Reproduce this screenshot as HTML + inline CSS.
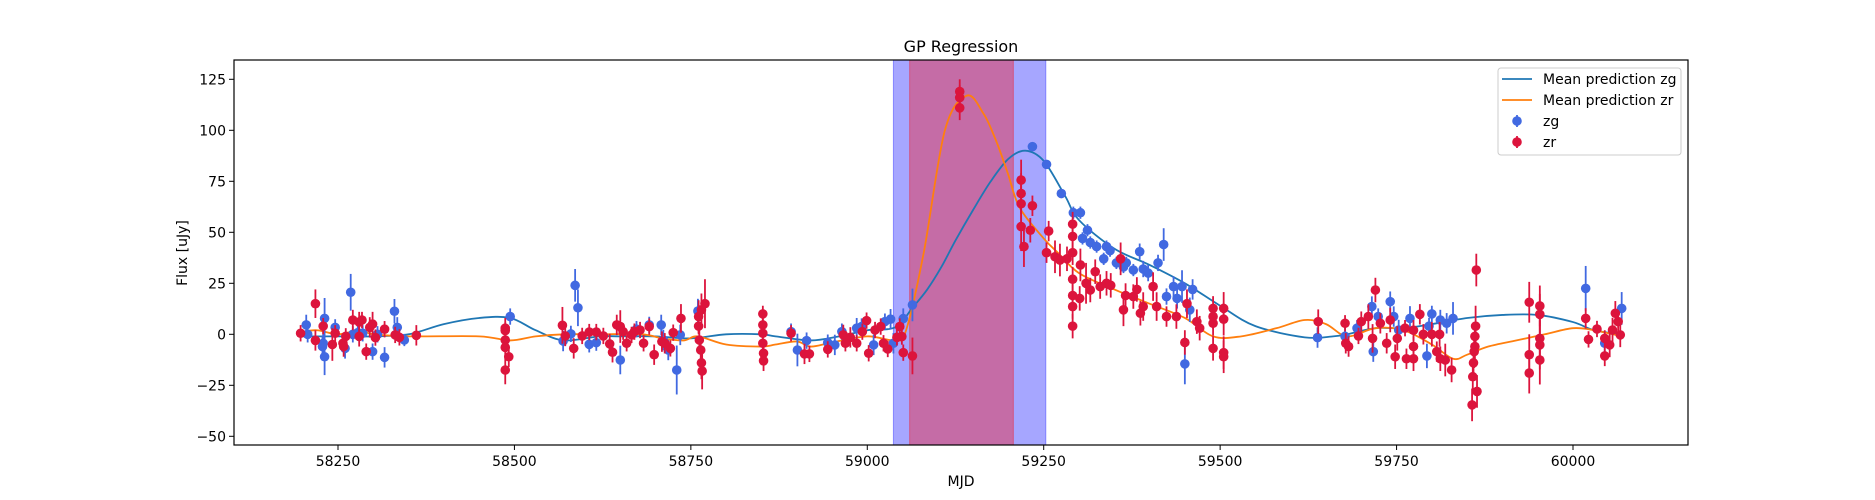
<!DOCTYPE html>
<html><head><meta charset="utf-8"><style>
body{margin:0;background:#fff;}
svg{display:block;font-family:"DejaVu Sans","Liberation Sans",sans-serif;}
</style></head><body>
<svg id="chart" width="1875" height="500" viewBox="0 0 1875 500" xmlns="http://www.w3.org/2000/svg">
<rect width="1875" height="500" fill="#fff"/>
<text x="961" y="52" font-size="16" text-anchor="middle">GP Regression</text>
<g id="shades"></g>
<g id="lines"></g>
<g id="points"></g>
<rect x="234" y="60" width="1454" height="385" fill="none" stroke="#000" stroke-width="1.2"/>
<g id="axes"></g>
<text x="961" y="486" font-size="14" text-anchor="middle">MJD</text>
<text x="187" y="253" font-size="14" text-anchor="middle" transform="rotate(-90 187 253)">Flux [uJy]</text>
<g id="legend">
<rect x="1498" y="68" width="183" height="87" rx="3" fill="#fff" fill-opacity="0.85" stroke="#ccc"/>
<line x1="1502" y1="79" x2="1532" y2="79" stroke="#1f77b4" stroke-width="1.8"/>
<text x="1543" y="84" font-size="14">Mean prediction zg</text>
<line x1="1502" y1="100" x2="1532" y2="100" stroke="#ff7f0e" stroke-width="1.8"/>
<text x="1543" y="105" font-size="14">Mean prediction zr</text>
<line x1="1517" y1="115" x2="1517" y2="127" stroke="#4169e1" stroke-width="1.8"/>
<circle cx="1517" cy="121" r="4.8" fill="#4169e1"/>
<text x="1543" y="126" font-size="14">zg</text>
<line x1="1517" y1="136" x2="1517" y2="148" stroke="#dc143c" stroke-width="1.8"/>
<circle cx="1517" cy="142" r="4.8" fill="#dc143c"/>
<text x="1543" y="147" font-size="14">zr</text>
</g>
</svg>
<script>
const xTicks=[58250,58500,58750,59000,59250,59500,59750,60000];
const yTicks=[-50,-25,0,25,50,75,100,125];
const shadeZg=[59037,59253];
const shadeZr=[59060,59207];
const zgMJD=[58205,58207,58228,58229,58231,58231,58246,58260,58268,58271,58278,58285,58299,58306,58316,58330,58334,58344,58494,58569,58580,58586,58590,58606,58616,58650,58673,58691,58708,58711,58718,58730,58735,58760,58892,58901,58914,58944,58954,58964,58985,58992,59009,59025,59033,59037,59051,59064,59234,59254,59275,59292,59302,59305,59312,59316,59325,59335,59339,59344,59353,59363,59367,59377,59386,59391,59398,59412,59420,59424,59434,59439,59446,59450,59457,59461,59638,59677,59694,59715,59717,59724,59741,59746,59753,59769,59793,59796,59800,59812,59821,59830,60018,60045,60069];
const zgFlux=[4.6,0,-6,-4.4,7.8,-11,3.4,-6.9,20.6,0,0.8,0.5,-8.5,0,-11.3,11.3,3.4,-2.8,8.7,-3.3,0.2,24,13,-4.9,-4.1,-12.6,2.5,4.6,4.6,-2.8,-7.7,-17.5,-0.3,11.4,1.3,-7.7,-3.1,-4.1,-5.2,1.3,3,3.8,-5.2,6.2,7.4,-4.4,7.7,14.4,92,83.3,69,59.6,59.6,47,51,45,43,37,43,41,35,33,35,31.5,40.5,32,30,35,44,18.5,23.4,17.6,23.4,-14.5,12,22,-1.6,-1,3,13.6,-8.5,8.7,16,8.7,2.1,7.8,-10.6,4,10,7,5.4,7.8,22.5,-4.4,12.7];
const zgErr=[5,4,5,6,10,9,4,5,9,4,4,4,4,4,5,6,5,3,4,5,4,8,9,4,4,7,4,4,5,5,5,12,5,6,4,8,4,4,5,4,5,4,5,4,5,5,5,8,2,2,2,3,3,3,3,3,3,3,3,3,3,3,3,3,4,4,4,4,8,4,5,5,8,10,6,5,5,5,4,5,5,4,5,5,5,6,6,4,4,5,5,8,11,5,8];
const zrMJD=[58197,58218,58218,58229,58242,58246,58257,58258,58261,58271,58280,58284,58280,58290,58295,58299,58303,58316,58331,58337,58361,58487,58487,58487,58487,58492,58487,58568,58572,58584,58596,58606,58616,58626,58635,58639,58645,58650,58654,58659,58666,58670,58678,58683,58691,58698,58709,58713,58721,58725,58736,58761,58761,58765,58770,58762,58764,58765,58766,58852,58852,58852,58852,58853,58853,58892,58911,58918,58944,58966,58969,58976,58985,58993,58999,59002,59011,59019,59023,59029,59042,59046,59049,59051,59064,59131,59131,59131,59218,59218,59218,59234,59218,59231,59222,59257,59254,59266,59273,59283,59291,59291,59291,59291,59291,59291,59291,59301,59302,59310,59316,59323,59330,59339,59345,59359,59363,59366,59377,59382,59387,59391,59405,59410,59424,59438,59450,59453,59467,59471,59490,59490,59490,59490,59505,59505,59505,59505,59639,59677,59678,59682,59696,59700,59710,59720,59716,59727,59736,59741,59748,59751,59762,59764,59774,59774,59774,59783,59788,59800,59807,59811,59812,59819,59828,59857,59858,59859,59860,59861,59861,59862,59864,59863,59938,59938,59938,59953,59953,59953,59953,59953,60018,60022,60034,60045,60045,60052,60056,60060,60064,60067];
const zrFlux=[0.5,15,-3,4,-5,0.5,-4.4,-6,-1,7,6,7,-1,-8.5,3.4,5,-1.6,2.5,-0.3,-1.5,-0.5,3,1.8,-2.8,-6.4,-11,-17.5,4.4,-0.8,-6.9,-0.8,1.1,1.1,-0.8,-4.7,-8.8,4.6,3.8,1.3,-4.4,-0.3,1.3,2.1,-4.4,3.8,-10,-3.6,-4.4,-6.9,0.8,7.8,4,8.7,12,15,-2.8,-7.7,-14,-18,10,4.6,0.5,-4.4,-9.3,-13,0.5,-9.6,-9.6,-7.4,-0.3,-4.4,-1.5,-4.4,1.3,6.7,-9.3,2.1,3.8,-4.4,-7.2,-1.5,3.8,-1.1,-9,-10.6,119,116,111,75.6,69,64,63,52.8,51,43,50.6,40,38,36.4,37,54,48,40,27,19,13.6,4,17.6,34,25,21.7,30.7,23.4,25,24,37,12,19,18.5,22,10.3,13.6,23.4,13.6,8.7,8.7,-4,15,6.2,3,12.7,8.7,5.4,-6.9,12.7,7.4,-9,-11,6.2,5.4,-4.4,-6,-0.8,6.2,8.7,21.7,-2,5.4,-4.4,7,-11,-2,3,-12,2,-6,-12,9.8,0,0,-8.5,0,-12,-12.6,-17.5,-34.6,-20.8,-14,-8.5,-6,-1,4,-28,31.5,15.7,-10,-19,13.9,9.8,-2,-5.2,-12.6,7.8,-2.5,2.6,-2,-10.6,-5.2,2.1,10.3,6.2,-0.3];
const zrErr=[4,7,5,4,8,4,4,5,4,5,5,4,5,4,5,6,4,4,4,4,5,5,4,4,5,5,7,9,5,5,4,4,4,4,5,5,5,8,4,4,4,4,4,4,4,5,5,5,4,4,7,4,8,8,12,5,7,8,9,4,4,4,4,5,5,4,5,4,4,5,4,5,4,4,4,4,4,4,4,4,4,4,4,4,9,6,6,6,10,10,12,5,12,6,10,5,5,8,8,6,6,6,6,6,6,6,6,6,8,10,6,6,6,6,6,8,8,6,6,6,6,7,7,7,5,6,6,7,6,6,6,6,6,6,8,8,8,8,6,4,5,5,4,5,6,6,7,5,5,6,6,6,4,5,5,5,6,5,5,6,5,6,6,8,6,8,8,8,8,8,7,10,8,8,10,10,10,10,10,10,12,12,5,4,4,4,5,6,6,6,5,6];
const zgCurveMJD=[58197,58250,58300,58350,58400,58450,58494,58530,58570,58620,58650,58700,58750,58800,58850,58870,58920,58960,59000,59040,59064,59085,59105,59125,59150,59175,59200,59224,59250,59280,59300,59350,59400,59450,59500,59550,59620,59660,59680,59720,59760,59800,59850,59900,59950,60000,60030,60069];
const zgCurveFlux=[-1,-1,-1,0,5,8,8,2,-3,-1,-1,-1,-2,0,0,-1,-3,-1,2,3.5,13,22,33,46,61,75,86,90,85,68,56,42,34,25,14,4,-1.5,-1,0,3,3,5,8,9.5,9.5,6,2,0];
const zrCurveMJD=[58197,58220,58250,58280,58300,58350,58450,58494,58530,58570,58620,58680,58710,58740,58760,58800,58850,58870,58900,58920,58950,59000,59040,59055,59080,59110,59141,59165,59180,59190,59200,59216,59250,59270,59300,59350,59400,59450,59490,59530,59580,59620,59650,59680,59720,59760,59800,59830,59850,59880,59920,59960,60000,60030,60069];
const zrCurveFlux=[1,2,0,2,0,-1,-1,-3,-1,0,0,0,-2,-3,-1,-5,-6,-5,-3.5,-6,-4,-1,-3,2,40,100,117,108,97,88,78,62,47,40,30,22,15,8,-1,-1,3,7,5,-1,3,2,-5,-12,-10,-6,-3,0,3,2,-1];

const NS='http://www.w3.org/2000/svg';
const X=v=>338+(v-58250)*0.70571;
const Y=f=>334.3-f*2.04;
function mk(tag,attrs,parent){const e=document.createElementNS(NS,tag);for(const k in attrs)e.setAttribute(k,attrs[k]);parent.appendChild(e);return e;}
const axes=document.getElementById('axes');
xTicks.forEach(t=>{
  const g=mk('g',{},axes);
  
  
  mk('line',{x1:X(t),x2:X(t),y1:445,y2:450,stroke:'#000','stroke-width':1},g);
  const tx=mk('text',{x:X(t),y:466,'font-size':14,'text-anchor':'middle'},g);tx.textContent=t;
});
yTicks.forEach(t=>{
  const g=mk('g',{},axes);
  
  
  mk('line',{x1:229,x2:234,y1:Y(t),y2:Y(t),stroke:'#000','stroke-width':1},g);
  const tx=mk('text',{x:226,y:Y(t)+5,'font-size':14,'text-anchor':'end'},g);tx.textContent=(t<0?'\u2212'+(-t):t);
});
const sh=document.getElementById('shades');
const s1=mk('rect',{x:X(shadeZg[0]),y:60,width:X(shadeZg[1])-X(shadeZg[0]),height:385,fill:'#0000ff','fill-opacity':0.35,stroke:'#0000ff','stroke-opacity':0.35},sh);


const s2=mk('rect',{x:X(shadeZr[0]),y:60,width:X(shadeZr[1])-X(shadeZr[0]),height:385,fill:'#ff0000','fill-opacity':0.35,stroke:'#ff0000','stroke-opacity':0.35},sh);


function curve(xs,ys){
  const p=xs.map((x,i)=>[X(x),Y(ys[i])]);
  let d='M'+p[0][0]+','+p[0][1];
  for(let i=0;i<p.length-1;i++){
    const p0=p[Math.max(0,i-1)],p1=p[i],p2=p[i+1],p3=p[Math.min(p.length-1,i+2)];
    const c1=[p1[0]+(p2[0]-p0[0])/6,p1[1]+(p2[1]-p0[1])/6];
    const c2=[p2[0]-(p3[0]-p1[0])/6,p2[1]-(p3[1]-p1[1])/6];
    d+=' C'+c1+' '+c2+' '+p2;
  }
  return d;
}
const lines=document.getElementById('lines');
const pts=document.getElementById('points');
function drawPts(ms,fs,es,col,name){
  ms.forEach((m,i)=>{
    const g=mk('g',{},pts);
    
    
    mk('line',{x1:X(m),x2:X(m),y1:Y(fs[i]-es[i]),y2:Y(fs[i]+es[i]),stroke:col,'stroke-width':1.8},g);
    mk('circle',{cx:X(m),cy:Y(fs[i]),r:4.8,fill:col},g);
  });
}
drawPts(zgMJD,zgFlux,zgErr,'#4169e1','zg');
drawPts(zrMJD,zrFlux,zrErr,'#dc143c','zr');
const l1=mk('path',{d:curve(zgCurveMJD,zgCurveFlux),fill:'none',stroke:'#1f77b4','stroke-width':1.8},lines);


const l2=mk('path',{d:curve(zrCurveMJD,zrCurveFlux),fill:'none',stroke:'#ff7f0e','stroke-width':1.8},lines);


</script>
</body></html>
